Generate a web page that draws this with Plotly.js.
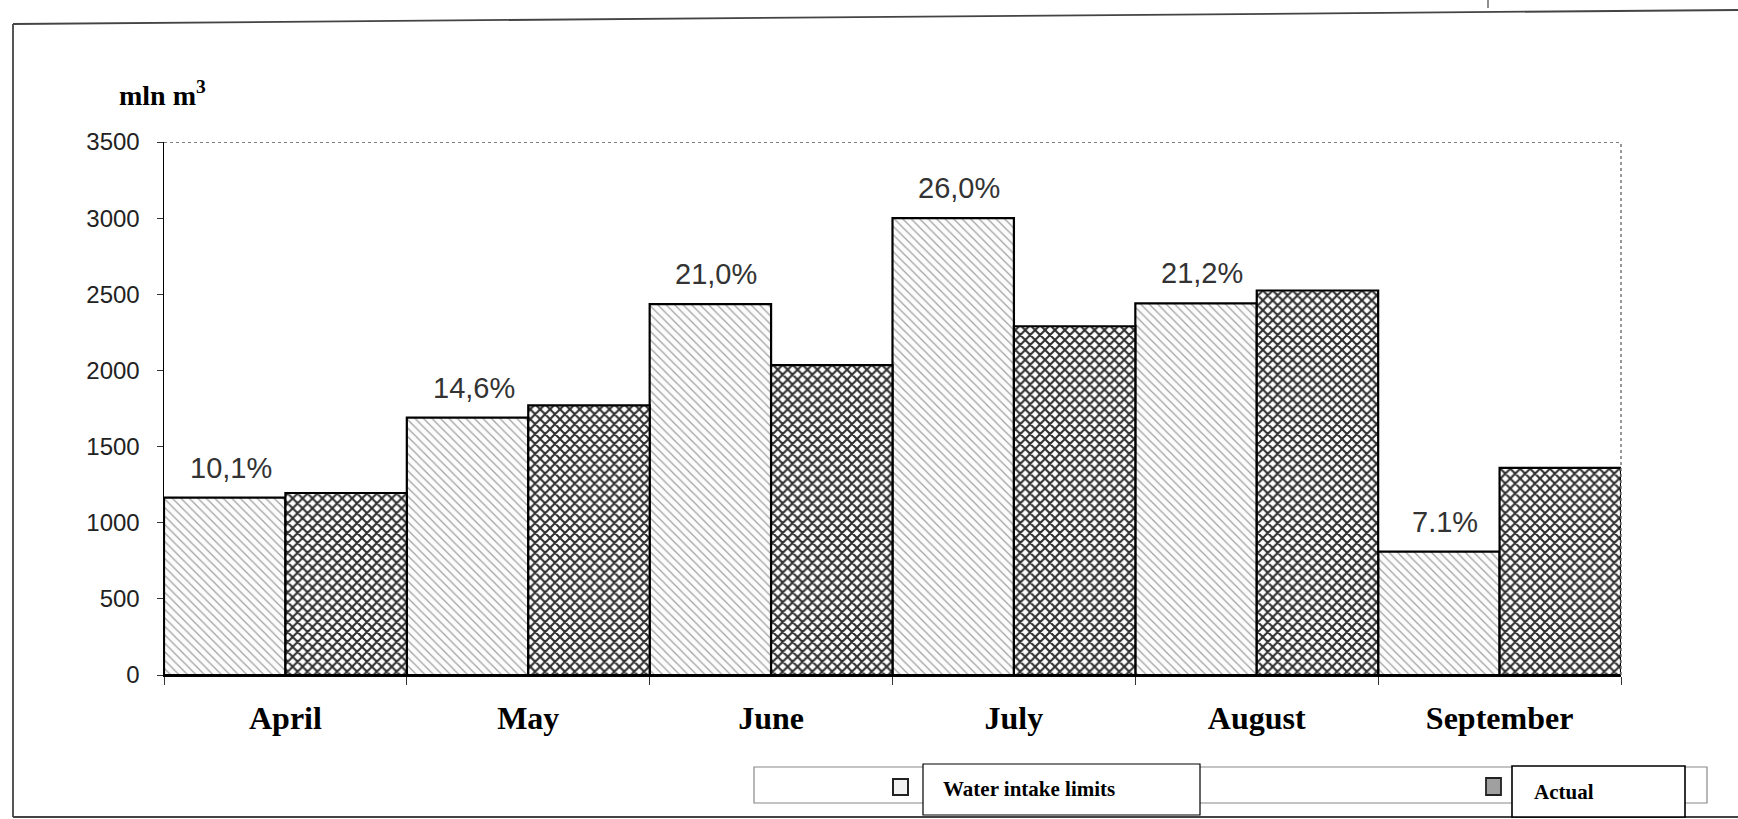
<!DOCTYPE html>
<html>
<head>
<meta charset="utf-8">
<script src="https://cdn.plot.ly/plotly-3.0.1.min.js"></script>
<style>
html,body{margin:0;padding:0;background:#fff;}
#chart{width:1738px;height:819px;}
</style>
</head>
<body>
<div id="chart"></div>
<script>
// Data
const months = ["April", "May", "June", "July", "August", "September"];
const limits = [1165, 1690, 2435, 3000, 2440, 810];
const actual = [1195, 1770, 2035, 2290, 2525, 1360];
const shareLabels = ["10,1%", "14,6%", "21,0%", "26,0%", "21,2%", "7.1%"];
const yTicks = [0, 500, 1000, 1500, 2000, 2500, 3000, 3500];
const seriesNames = ["Water intake limits", "Actual"];

const W = 1738, H = 819;
const M = {l: 164, r: 117, t: 142, b: 144};
const PW = W - M.l - M.r, PH = H - M.t - M.b;
const px = x => (x - M.l) / PW;
const py = y => (H - M.b - y) / PH;

const traces = [
  {
    type: "bar", name: seriesNames[0], x: months, y: limits,
    marker: {
      color: "#ffffff",
      line: {color: "#000", width: 2.2},
      pattern: {shape: "\\", fgcolor: "#a0a0a0", bgcolor: "#fcfcfc", size: 6, solidity: 0.2}
    },
    hoverinfo: "x+y"
  },
  {
    type: "bar", name: seriesNames[1], x: months, y: actual,
    marker: {
      color: "#ffffff",
      line: {color: "#000", width: 2.2},
      pattern: {shape: "x", fgcolor: "#2e2e2e", bgcolor: "#ffffff", size: 7, solidity: 0.5}
    },
    hoverinfo: "x+y"
  }
];

const annotations = months.map((m, i) => ({
  x: m, y: limits[i], xref: "x", yref: "y",
  text: shareLabels[i], showarrow: false,
  xshift: -PW / months.length / 4 + 6, yshift: 12, yanchor: "bottom",
  font: {family: "Arial, Liberation Sans, sans-serif", size: 29, color: "#333"}
}));

annotations.push({
  xref: "paper", yref: "paper", x: px(117), y: py(93), xanchor: "left", yanchor: "middle",
  text: "<b>mln m<sup>3</sup></b>", showarrow: false,
  font: {family: "Liberation Serif, Times New Roman, serif", size: 28, color: "#000"}
});
annotations.push({
  xref: "paper", yref: "paper", x: px(941), y: py(789), xanchor: "left", yanchor: "middle",
  text: "<b>" + seriesNames[0] + "</b>", showarrow: false,
  font: {family: "Liberation Serif, Times New Roman, serif", size: 21, color: "#000"}
});
annotations.push({
  xref: "paper", yref: "paper", x: px(1532), y: py(792), xanchor: "left", yanchor: "middle",
  text: "<b>" + seriesNames[1] + "</b>", showarrow: false,
  font: {family: "Liberation Serif, Times New Roman, serif", size: 21, color: "#000"}
});

const rect = (x0, y0, x1, y1, line, fill) => ({
  type: "rect", xref: "paper", yref: "paper",
  x0: px(x0), x1: px(x1), y0: py(y0), y1: py(y1),
  line: line, fillcolor: fill || "rgba(0,0,0,0)", layer: "above"
});
const seg = (x0, y0, x1, y1, line) => ({
  type: "line", xref: "paper", yref: "paper",
  x0: px(x0), x1: px(x1), y0: py(y0), y1: py(y1), line: line, layer: "above"
});

const frameLine = {color: "#444", width: 1.8};
const shapes = [
  // outer frame (scan edges)
  seg(13, 24, 1738, 10, frameLine),
  seg(13, 24, 13, 817, frameLine),
  seg(13, 817, 1738, 817, frameLine),
  // small mark at top
  seg(1488, 0, 1488, 8, {color: "#444", width: 1.2}),
  // top dotted border and right dotted border
  {type: "line", xref: "paper", yref: "y", x0: 0, x1: 1, y0: 3500, y1: 3500, line: {color: "#555", width: 1.5, dash: "dot"}},
  {type: "line", xref: "paper", yref: "paper", x0: 1, x1: 1, y0: 0, y1: 1, line: {color: "#777", width: 1.5, dash: "dot"}},
  // legend box
  rect(754, 767, 1707, 803, {color: "#888", width: 1.2}),
  rect(923, 764, 1200, 815, {color: "#000", width: 1.2}, "#fff"),
  rect(1512, 766, 1685, 817, {color: "#000", width: 1.6}, "#fff"),
  // legend icons
  rect(893, 779, 908, 795, {color: "#222", width: 2}, "#f2f2f2"),
  rect(1486, 778, 1501, 795, {color: "#222", width: 1.8}, "#a0a0a0")
];

const layout = {
  width: W, height: H,
  margin: M,
  paper_bgcolor: "#fff", plot_bgcolor: "#fff",
  showlegend: false,
  barmode: "group", bargap: 0, bargroupgap: 0,
  xaxis: {
    type: "category", showgrid: false, zeroline: false,
    showline: true, linecolor: "#000", linewidth: 1.8,
    ticks: "outside", tickson: "boundaries", ticklen: 8, tickcolor: "#333",
    ticklabelstandoff: 14,
    tickfont: {family: "Liberation Serif, Times New Roman, serif", size: 32, color: "#000", weight: "bold"}
  },
  yaxis: {
    range: [0, 3500], tickvals: yTicks, showgrid: false, zeroline: false,
    showline: true, linecolor: "#000", linewidth: 1.5,
    ticks: "outside", ticklen: 6, tickcolor: "#333",
    ticklabelstandoff: 12,
    tickfont: {family: "Arial, Liberation Sans, sans-serif", size: 24, color: "#222"}
  },
  annotations: annotations,
  shapes: shapes
};

Plotly.newPlot("chart", traces, layout, {displayModeBar: false, staticPlot: true});
</script>
</body>
</html>
